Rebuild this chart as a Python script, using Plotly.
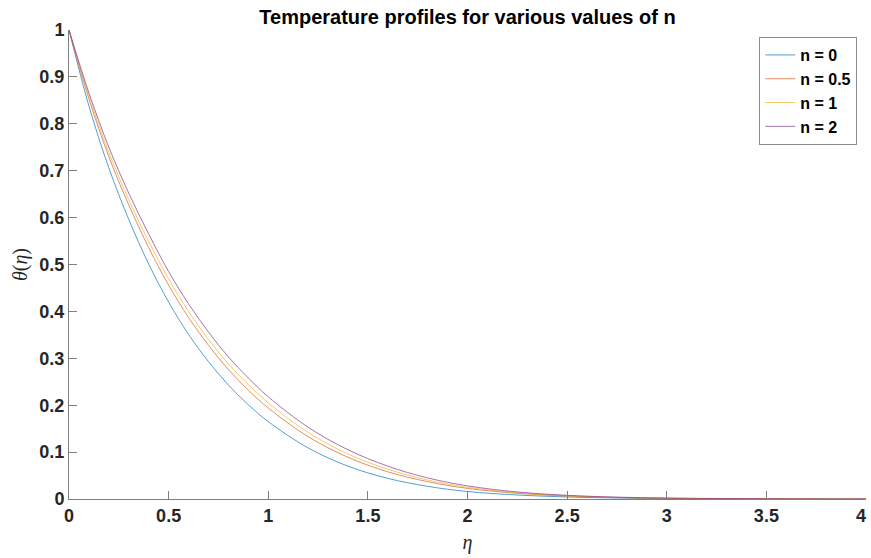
import plotly.graph_objects as go

eta = [0, 0.1, 0.2, 0.3, 0.4, 0.5, 0.6, 0.7, 0.8, 0.9, 1.0, 1.2, 1.4, 1.6, 1.8,
       2.0, 2.25, 2.5, 2.75, 3.0, 3.5, 4.0]

theta_n0 = [1, 0.838, 0.706, 0.596, 0.501, 0.42, 0.351, 0.293, 0.243, 0.201, 0.165,
            0.109, 0.07, 0.044, 0.027, 0.016, 0.0085, 0.0043, 0.0021, 0.001, 0.0002, 0.0]
theta_n05 = [1, 0.853, 0.730, 0.627, 0.536, 0.456, 0.387, 0.328, 0.276, 0.232, 0.194,
             0.133, 0.089, 0.058, 0.037, 0.0226, 0.0121, 0.0062, 0.0031, 0.0015, 0.0004, 0.0]
theta_n1 = [1, 0.859, 0.739, 0.638, 0.549, 0.469, 0.400, 0.340, 0.288, 0.244, 0.205,
            0.142, 0.096, 0.0635, 0.0405, 0.025, 0.0134, 0.0069, 0.0035, 0.0018, 0.0004, 0.0]
theta_n2 = [1, 0.866, 0.75, 0.652, 0.565, 0.485, 0.416, 0.356, 0.303, 0.258, 0.218,
            0.153, 0.105, 0.07, 0.045, 0.028, 0.015, 0.0078, 0.004, 0.002, 0.0005, 0.0]

names = ["n = 0", "n = 0.5", "n = 1", "n = 2"]
colors = ["#0072BD", "#D95319", "#EDB120", "#7E2F8E"]
series = [theta_n0, theta_n05, theta_n1, theta_n2]

x_ticks = [0, 0.5, 1, 1.5, 2, 2.5, 3, 3.5, 4]
x_ticktext = ["<b>0</b>", "<b>0.5</b>", "<b>1</b>", "<b>1.5</b>", "<b>2</b>",
              "<b>2.5</b>", "<b>3</b>", "<b>3.5</b>", "<b>4</b>\u00a0\u00a0"]
y_ticks = [0, 0.1, 0.2, 0.3, 0.4, 0.5, 0.6, 0.7, 0.8, 0.9, 1]

fig = go.Figure()
for nm, col, ys in zip(names, colors, series):
    fig.add_trace(go.Scatter(x=eta, y=ys, mode="lines", name=f"<b>{nm}</b>",
                             line=dict(color=col, width=0.9, shape="spline", smoothing=1.0),
                             opacity=0.75))

axis_font = dict(family="Liberation Sans, Arial, sans-serif", size=18, color="#262626")

fig.update_layout(
    width=871, height=558,
    margin=dict(l=69, r=5, t=30, b=59),
    paper_bgcolor="white", plot_bgcolor="white",
    title=dict(text="<b>Temperature profiles for various values of n</b>",
               x=(69 + 866) / 2 / 871, xanchor="center", y=1 - 17 / 558, yanchor="middle",
               font=dict(family="Liberation Sans, Arial, sans-serif", size=20, color="#000000")),
    legend=dict(x=0.989, xanchor="right", y=0.985, yanchor="top",
                bgcolor="white", bordercolor="#8c8c8c", borderwidth=1,
                font=dict(family="Liberation Sans, Arial, sans-serif", size=16, color="#000000"),
                tracegroupgap=0, itemwidth=30),
    showlegend=True,
)

fig.update_xaxes(range=[0, 4], tickvals=x_ticks, ticktext=x_ticktext,
                 ticklabeloverflow="allow", automargin=False,
                 showline=True, linecolor="#808080", linewidth=1, mirror=False,
                 ticks="inside", ticklen=8, tickcolor="#808080", showgrid=False, zeroline=False,
                 tickfont=axis_font,
                 title=dict(text="<i>η</i>", font=dict(family="Liberation Serif, Times New Roman, serif",
                                                         size=20, color="#262626"), standoff=10))
fig.update_yaxes(range=[0, 1], tickvals=y_ticks, ticktext=[f"<b>{v:g}</b>" for v in y_ticks],
                 automargin=False,
                 showline=True, linecolor="#808080", linewidth=1, mirror=False,
                 ticks="inside", ticklen=8, tickcolor="#808080", showgrid=False, zeroline=False,
                 tickfont=axis_font,
                 title=dict(text="<i>θ</i>(<i>η</i>)", font=dict(family="Liberation Serif, Times New Roman, serif",
                                                                   size=20, color="#262626"), standoff=6))

fig.write_html("out.html")
